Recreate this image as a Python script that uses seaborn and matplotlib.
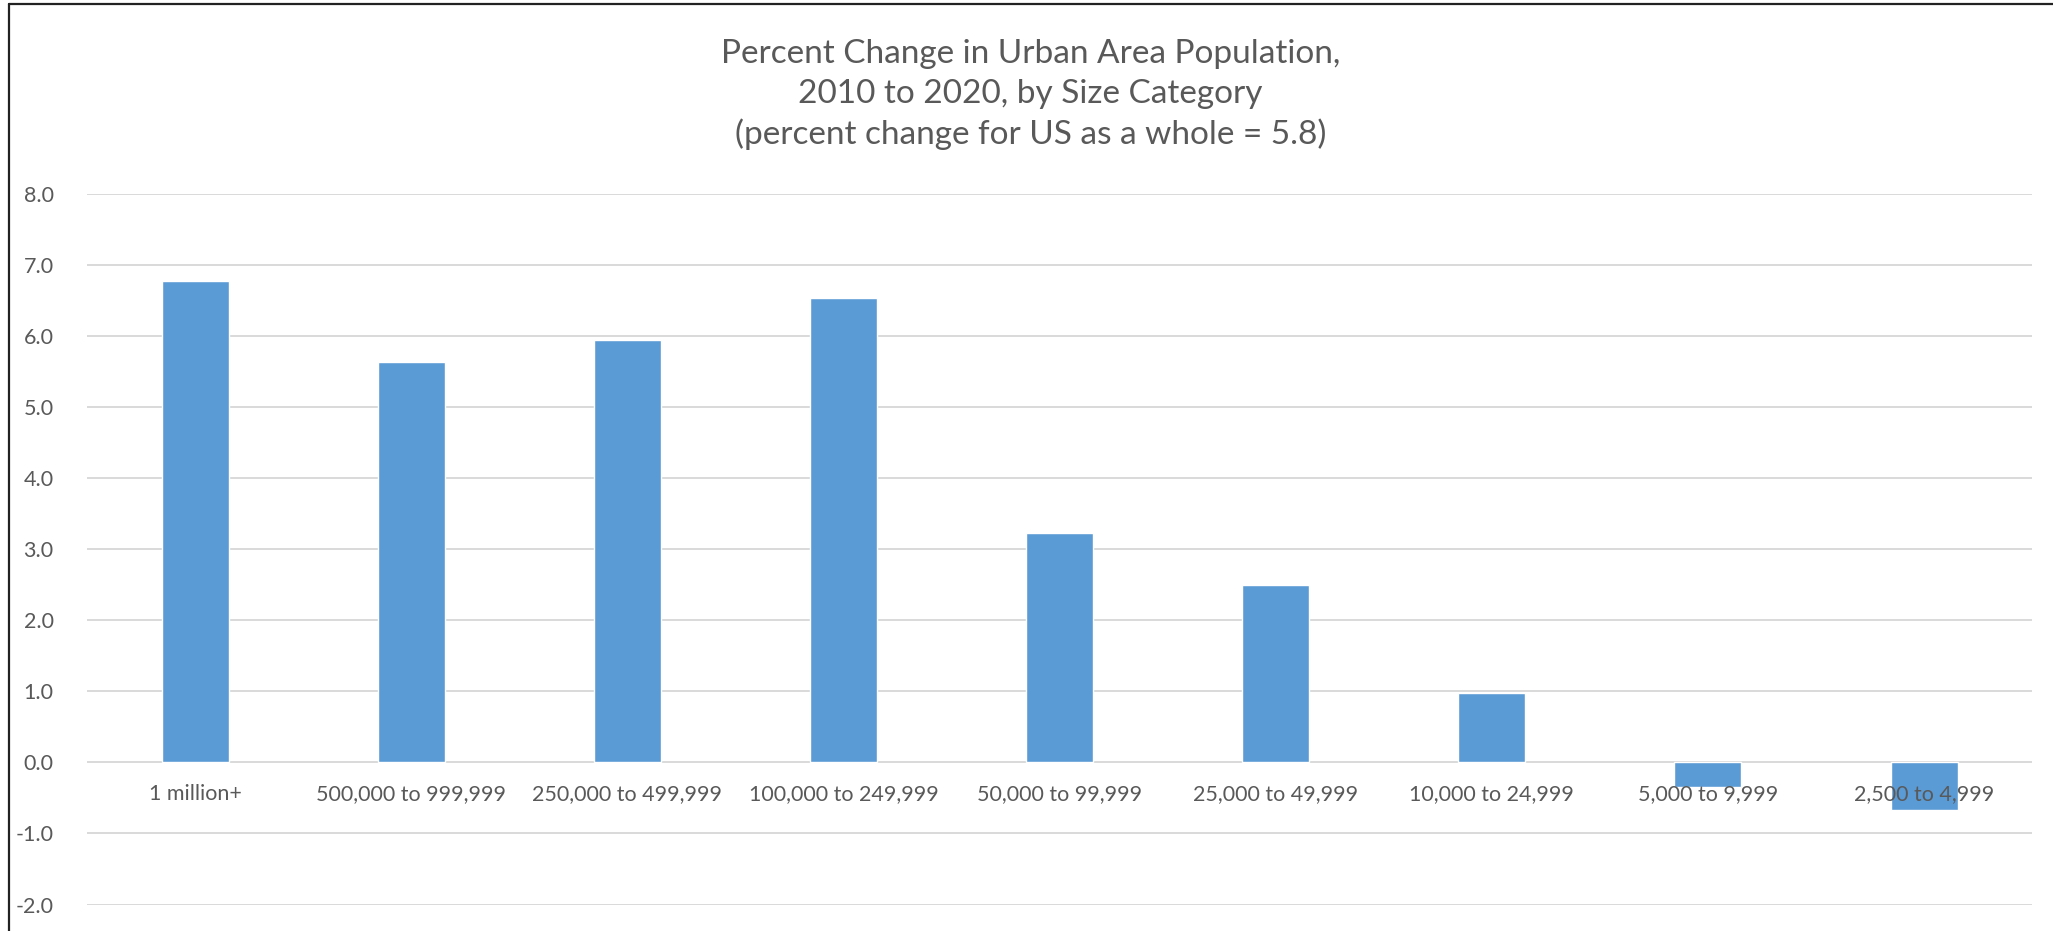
import matplotlib
matplotlib.use("Agg")
import matplotlib.pyplot as plt
import matplotlib.transforms as mtransforms
import seaborn as sns
import pandas as pd
from matplotlib.lines import Line2D
from matplotlib.ticker import FormatStrFormatter

# Dados
categorias = ['1 million+', '500,000 to 999,999', '250,000 to 499,999',
              '100,000 to 249,999', '50,000 to 99,999', '25,000 to 49,999',
              '10,000 to 24,999', '5,000 to 9,999', '2,500 to 4,999']
variacao = [6.77, 5.63, 5.95, 6.54, 3.23, 2.50, 0.98, -0.35, -0.67]
marcas_y = [-2.0, -1.0, 0.0, 1.0, 2.0, 3.0, 4.0, 5.0, 6.0, 7.0, 8.0]

df = pd.DataFrame({'categoria': categorias, 'variacao': variacao})

sns.set_theme(style="white")
plt.rcParams['font.family'] = ['Lato', 'DejaVu Sans']
plt.rcParams['axes.unicode_minus'] = False

cinza_texto = '#595959'
cinza_grade = '#d9d9d9'

fig = plt.figure(figsize=(20.53, 9.31), dpi=100)
ax = fig.add_axes([0.0424, 0.02846, 0.9474, 0.7631])

sns.barplot(data=df, x='categoria', y='variacao', color='#5b9bd5',
            width=0.31, saturation=1, ax=ax, zorder=3)

ax.set_ylim(-2, 8)
ax.set_yticks(marcas_y)
ax.yaxis.set_major_formatter(FormatStrFormatter('%.1f'))
ax.grid(axis='y', color=cinza_grade, linewidth=1.4, zorder=0)
ax.grid(axis='x', visible=False)
ax.set_axisbelow(True)
ax.set_xlabel('')
ax.set_ylabel('')

for lado in ['top', 'right', 'left', 'bottom']:
    ax.spines[lado].set_visible(False)

ax.tick_params(axis='x', length=0, labelbottom=False)
ax.tick_params(axis='y', length=0, pad=24, labelsize=15.5, labelcolor=cinza_texto)

# rótulos das categorias junto ao eixo zero, por cima das barras
desloc = mtransforms.offset_copy(ax.transData, fig=fig, x=0, y=-22.5, units='points')
for i, rotulo in enumerate(categorias):
    ax.text(i, 0, rotulo, transform=desloc, ha='center', va='center',
            fontsize=15.5, color=cinza_texto, zorder=5)

fig.text(0.5018, 0.9577, 'Percent Change in Urban Area Population,\n2010 to 2020, by Size Category\n(percent change for US as a whole = 5.8)',
         ha='center', va='top', fontsize=24, color=cinza_texto, linespacing=1.38)

# moldura do gráfico (esquerda e topo)
fig.add_artist(Line2D([0.0046, 0.0046], [0, 0.9957], transform=fig.transFigure, color='#222222', linewidth=1.6))
fig.add_artist(Line2D([0.0046, 1], [0.9957, 0.9957], transform=fig.transFigure, color='#222222', linewidth=1.6))

fig.savefig('out.png', dpi=100)
